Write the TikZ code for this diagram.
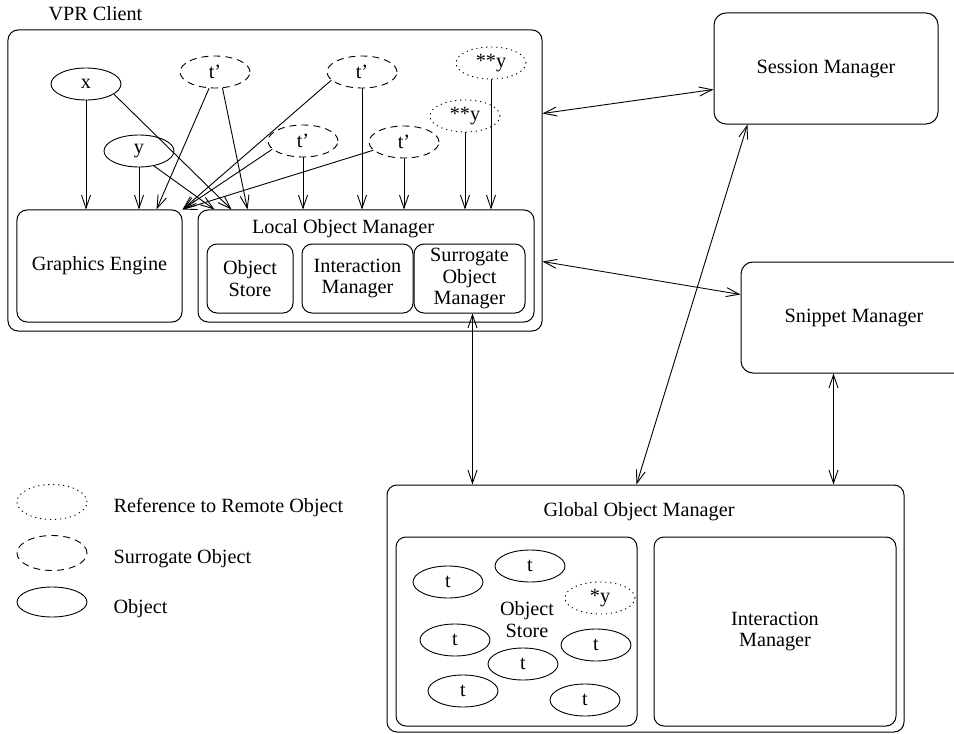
\documentclass[tikz,border=0pt]{standalone}
\usepackage{fontspec}
\setmainfont{Liberation Serif}
\usetikzlibrary{shapes.geometric,arrows.meta,calc}
\begin{document}
\begin{tikzpicture}[x=1bp,y=-1bp,
  every node/.style={font=\fontsize{20.3}{22}\selectfont},
  box/.style={draw, line width=1bp, rounded corners=10bp, inner sep=0pt, align=center},
  obj/.style={draw, ellipse, line width=0.9bp, minimum width=70bp, minimum height=32bp, inner sep=0pt},
  surr/.style={obj, dash pattern=on 7bp off 5bp},
  rref/.style={obj, dash pattern=on 1.2bp off 3.8bp},
  conn/.style={line width=0.9bp, -{Straight Barb[length=13bp,width=9bp]}},
  bconn/.style={line width=0.9bp, {Straight Barb[length=13bp,width=9bp]}-{Straight Barb[length=13bp,width=9bp]}},
]
\useasboundingbox (0,0) rectangle (954,734);

% ---------- VPR client ----------
\node[box, minimum width=534bp, minimum height=301bp] (vpr) at (275,180.5) {};
\node[anchor=base west] (vprlabel) at (45,21) {VPR Client};

\node[box, minimum width=165bp, minimum height=112bp] (ge) at (99.5,266) {Graphics Engine};
\node[box, minimum width=336bp, minimum height=112bp] (lom) at (366,266) {};
\node (lomlabel) at (343,229) {Local Object Manager};
\node[box, minimum width=86bp, minimum height=69bp] (los) at (250,278.5) {Object\\Store};
\node[box, minimum width=111bp, minimum height=69bp] (lim) at (357.5,278.5) {Interaction\\Manager};
\node[box, minimum width=111bp, minimum height=69bp] (som) at (469.5,278.5) {Surrogate\\Object\\Manager};

\node[obj] (ex) at (86,84) {x};
\node[obj] (ey) at (139,151) {y};
\node[surr] (t1) at (215,72) {t'};
\node[surr] (t2) at (303,141) {t'};
\node[surr] (t3) at (362,72) {t'};
\node[surr] (t4) at (404,142) {t'};
\node[rref] (r1) at (491,63) {**y};
\node[rref] (r2) at (465,116) {**y};

\draw[conn] (ex.south) -- (ex.south |- ge.north);
\draw[conn] (ex.-20) -- ($(lom.north west)+(34,0)$);
\draw[conn] (ey.south) -- (ey.south |- ge.north);
\draw[conn] (ey.-45) -- ($(lom.north west)+(17,0)$);
\draw[conn] (t1.-110) -- ($(ge.north west)+(140,0)$);
\draw[conn] (t1.-65) -- ($(lom.north west)+(50,0)$);
\draw[conn] (t2.south) -- (t2.south |- lom.north);
\draw[conn] (t2.195) -- (ge.north east);
\draw[conn] (t3.south) -- (t3.south |- lom.north);
\draw[conn] (t3.195) -- (ge.north east);
\draw[conn] (t4.south) -- (t4.south |- lom.north);
\draw[conn] (t4.195) -- (ge.north east);
\draw[conn] (r1.south) -- (r1.south |- lom.north);
\draw[conn] (r2.south) -- (r2.south |- lom.north);

% ---------- managers ----------
\node[box, rounded corners=12bp, minimum width=224bp, minimum height=111bp] (sess) at (826,68.5) {Session Manager};
\node[box, rounded corners=12bp, minimum width=226bp, minimum height=111bp] (snip) at (854,317.5) {Snippet Manager};

% ---------- global object manager ----------
\node[box, minimum width=517bp, minimum height=247bp] (gom) at (645.5,608.5) {};
\node (gomlabel) at (639,512) {Global Object Manager};
\node[box, minimum width=241bp, minimum height=189bp] (gos) at (516.5,631.5) {};
\node[align=center] (goslabel) at (527,620) {Object\\Store};
\node[box, minimum width=242bp, minimum height=189bp] (gim) at (775,631.5) {Interaction\\Manager};

\node[obj] (g1) at (448,582) {t};
\node[obj] (g2) at (530,566) {t};
\node[rref] (gy) at (600,598) {*y};
\node[obj] (g4) at (455,640) {t};
\node[obj] (g5) at (596,645) {t};
\node[obj] (g6) at (523,664) {t};
\node[obj] (g7) at (463,691) {t};
\node[obj] (g8) at (585,700) {t};

% ---------- connections ----------
\draw[bconn] ($(vpr.north east)+(0,84)$) -- ($(sess.north west)+(0,77)$);
\draw[bconn] ($(vpr.north east)+(0,232)$) -- ($(snip.north west)+(0,33)$);
\draw[bconn] ($(sess.south west)+(34,0)$) -- ($(gom.north west)+(250,0)$);
\draw[bconn] ($(snip.south west)+(93,0)$) -- ($(gom.north west)+(447,0)$);
\draw[bconn] ($(som.south west)+(59,0)$) -- ($(gom.north west)+(86,0)$);

% ---------- legend ----------
\node[rref, minimum height=35bp] (lg1) at (52,502) {};
\node[anchor=base west] (lgt1) at (110,512) {Reference to Remote Object};
\node[surr, minimum height=35bp] (lg2) at (52,553) {};
\node[anchor=base west] (lgt2) at (110,563) {Surrogate Object};
\node[obj, minimum height=30bp] (lg3) at (52,602) {};
\node[anchor=base west] (lgt3) at (110,613) {Object};
\end{tikzpicture}
\end{document}
